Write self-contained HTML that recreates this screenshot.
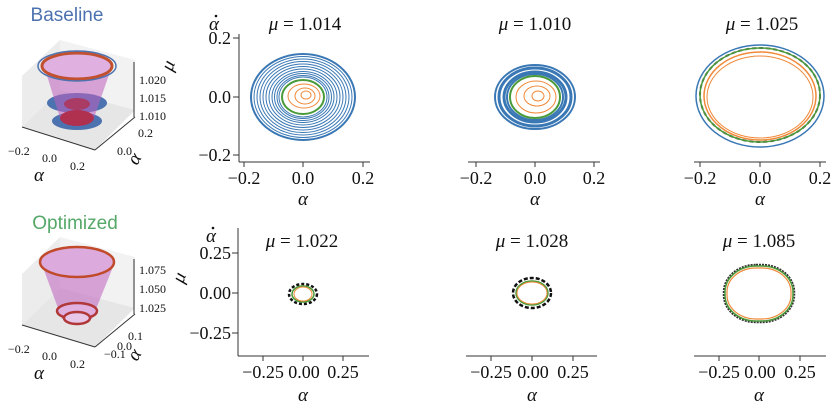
<!DOCTYPE html>
<html><head><meta charset="utf-8"><style>
body{margin:0;background:#fff;}
svg{display:block;font-family:"Liberation Serif",serif;}
.t{font-size:19px;fill:#111}
.tk{font-size:18px;fill:#111}
.s{font-size:12px;fill:#111}
</style></head><body>
<svg width="839" height="412" viewBox="0 0 839 412">
<text x="67" y="21" text-anchor="middle" font-family="Liberation Sans,sans-serif" font-size="19" fill="#4c72b0">Baseline</text>
<text x="75" y="229" text-anchor="middle" font-family="Liberation Sans,sans-serif" font-size="19" fill="#55a868">Optimized</text>

<!-- 3D top -->
<g>
<polygon points="22,76 60,40 60,90 22,127" fill="#ececec"/>
<polygon points="60,40 135,60 135,110 60,90" fill="#f2f2f2"/>
<polygon points="22,127 60,90 135,110 95,150" fill="#e6e6e6"/>
<line x1="22" y1="127" x2="95" y2="150" stroke="#333"/>
<line x1="95" y1="150" x2="135" y2="117" stroke="#333"/>
<line x1="134" y1="62" x2="134" y2="117" stroke="#333"/>
<ellipse cx="77" cy="121" rx="25" ry="9" fill="#4c72b0"/>
<ellipse cx="77" cy="103" rx="30" ry="10" fill="#4c72b0"/>
<polygon points="44,66 112,66 94,118 60,118" fill="#c060c0" opacity="0.55"/>
<ellipse cx="77" cy="118" rx="17" ry="8" fill="#b03050"/>
<ellipse cx="77" cy="104" rx="13" ry="6" fill="#b03050" opacity="0.8"/>
<ellipse cx="77" cy="66" rx="35" ry="13" fill="#e0b0e0" stroke="#c05030" stroke-width="3"/>
<ellipse cx="77" cy="66" rx="39" ry="15" fill="none" stroke="#4c72b0" stroke-width="1.5"/>
<text class="s" x="139" y="84">1.020</text>
<text class="s" x="139" y="102">1.015</text>
<text class="s" x="139" y="120">1.010</text>
<text class="t" transform="translate(172,72) rotate(-70)" font-style="italic">μ</text>
<text class="s" x="8" y="155">−0.2</text>
<text class="s" x="42" y="162">0.0</text>
<text class="s" x="70" y="170">0.2</text>
<text class="t" x="34" y="181" font-style="italic">α</text>
<text class="s" x="138" y="137">0.2</text>
<text class="s" x="117" y="155">0.0</text>
<text class="t" transform="translate(137,166) rotate(-60)" font-style="italic">α</text>
</g>

<!-- 3D bottom -->
<g>
<polygon points="22,274 60,237 60,288 22,325" fill="#ececec"/>
<polygon points="60,237 135,257 135,308 60,288" fill="#f2f2f2"/>
<polygon points="22,325 60,288 135,308 95,347" fill="#e6e6e6"/>
<line x1="22" y1="325" x2="95" y2="347" stroke="#333"/>
<line x1="95" y1="347" x2="135" y2="314" stroke="#333"/>
<line x1="134" y1="259" x2="134" y2="314" stroke="#333"/>
<polygon points="41,262 115,262 92,319 62,319" fill="#c060c0" opacity="0.55"/>
<ellipse cx="77" cy="311" rx="20" ry="8" fill="#e0b0e0" stroke="#b03838" stroke-width="2.5"/>
<ellipse cx="77" cy="318" rx="13" ry="6" fill="#e8c8e8" stroke="#b03838" stroke-width="2.5"/>
<ellipse cx="77" cy="262" rx="37" ry="15" fill="#dcaadc" stroke="#c04a2a" stroke-width="2.5"/>
<text class="s" x="139" y="274">1.075</text>
<text class="s" x="139" y="293">1.050</text>
<text class="s" x="139" y="312">1.025</text>
<text class="t" transform="translate(183,284) rotate(-70)" font-style="italic">μ</text>
<text class="s" x="8" y="353">−0.2</text>
<text class="s" x="42" y="360">0.0</text>
<text class="s" x="70" y="368">0.2</text>
<text class="t" x="34" y="379" font-style="italic">α</text>
<text class="s" x="128" y="340">0.1</text>
<text class="s" x="117" y="350">0.0</text>
<text class="s" x="104" y="358">−0.1</text>
<text class="t" transform="translate(137,362) rotate(-60)" font-style="italic">α</text>
</g>

<!-- Top row axes -->
<g stroke="#333" stroke-width="1" fill="none">
<line x1="239" y1="34" x2="239" y2="162"/>
<line x1="233" y1="38" x2="239" y2="38"/><line x1="233" y1="97" x2="239" y2="97"/><line x1="233" y1="155" x2="239" y2="155"/>
<line x1="239" y1="162" x2="370" y2="162"/>
<line x1="244" y1="162" x2="244" y2="167"/><line x1="303" y1="162" x2="303" y2="167"/><line x1="363" y1="162" x2="363" y2="167"/>
<line x1="468" y1="162" x2="600" y2="162"/>
<line x1="476" y1="162" x2="476" y2="167"/><line x1="535" y1="162" x2="535" y2="167"/><line x1="594" y1="162" x2="594" y2="167"/>
<line x1="694" y1="162" x2="826" y2="162"/>
<line x1="700" y1="162" x2="700" y2="167"/><line x1="760" y1="162" x2="760" y2="167"/><line x1="820" y1="162" x2="820" y2="167"/>
</g>
<text class="tk" x="231" y="44" text-anchor="end">0.2</text>
<text class="tk" x="231" y="103" text-anchor="end">0.0</text>
<text class="tk" x="231" y="161" text-anchor="end">−0.2</text>
<text class="tk" x="244" y="184" text-anchor="middle">−0.2</text>
<text class="tk" x="303" y="184" text-anchor="middle">0.0</text>
<text class="tk" x="363" y="184" text-anchor="middle">0.2</text>
<text class="tk" x="476" y="184" text-anchor="middle">−0.2</text>
<text class="tk" x="535" y="184" text-anchor="middle">0.0</text>
<text class="tk" x="594" y="184" text-anchor="middle">0.2</text>
<text class="tk" x="700" y="184" text-anchor="middle">−0.2</text>
<text class="tk" x="760" y="184" text-anchor="middle">0.0</text>
<text class="tk" x="820" y="184" text-anchor="middle">0.2</text>
<text class="t" x="303" y="205" text-anchor="middle" font-style="italic">α</text>
<text class="t" x="535" y="205" text-anchor="middle" font-style="italic">α</text>
<text class="t" x="760" y="205" text-anchor="middle" font-style="italic">α</text>
<text class="t" x="214" y="30" text-anchor="middle" font-style="italic">α</text><circle cx="216" cy="16" r="1.3" fill="#111"/>
<text class="t" x="305" y="30" text-anchor="middle"><tspan font-style="italic">μ</tspan> = 1.014</text>
<text class="t" x="535" y="30" text-anchor="middle"><tspan font-style="italic">μ</tspan> = 1.010</text>
<text class="t" x="762" y="30" text-anchor="middle"><tspan font-style="italic">μ</tspan> = 1.025</text>

<!-- top p1 -->
<g fill="none" stroke="#3a78b5" stroke-width="1">
<ellipse cx="303" cy="97" rx="52" ry="43" stroke-width="2"/>
<ellipse cx="303" cy="97" rx="49" ry="40.5"/>
<ellipse cx="303" cy="97" rx="46" ry="38"/>
<ellipse cx="303" cy="97" rx="43" ry="35.5"/>
<ellipse cx="303" cy="97" rx="40" ry="33"/>
<ellipse cx="303" cy="97" rx="37" ry="30.5"/>
<ellipse cx="303" cy="97" rx="34" ry="28"/>
<ellipse cx="303" cy="97" rx="31" ry="25.5"/>
<ellipse cx="303" cy="97" rx="28.5" ry="23.5"/>
<ellipse cx="303" cy="97" rx="26" ry="21.5"/>
<ellipse cx="303" cy="97" rx="24" ry="20"/>
</g>
<ellipse cx="303" cy="97" rx="21" ry="17" fill="#fff" stroke="#4a9a3a" stroke-width="2"/>
<g fill="none" stroke="#f08a3a" stroke-width="1">
<ellipse cx="304" cy="96" rx="16" ry="12"/><ellipse cx="305" cy="96" rx="10" ry="8"/><ellipse cx="306" cy="95" rx="5" ry="4"/>
</g>
<!-- top p2 -->
<g fill="none" stroke="#3a78b5">
<ellipse cx="535" cy="97" rx="40" ry="32" stroke-width="2"/>
<ellipse cx="535" cy="97" rx="36" ry="29" stroke-width="3"/>
<ellipse cx="535" cy="97" rx="31" ry="25" stroke-width="3"/>
<ellipse cx="535" cy="97" rx="28" ry="23" stroke-width="2"/>
</g>
<ellipse cx="535" cy="97" rx="25" ry="21" fill="#fff" stroke="#4a9a3a" stroke-width="2"/>
<g fill="none" stroke="#f08a3a" stroke-width="1">
<ellipse cx="536" cy="97" rx="20" ry="16"/><ellipse cx="537" cy="96" rx="13" ry="10"/><ellipse cx="538" cy="96" rx="6" ry="5"/>
</g>
<!-- top p3 -->
<ellipse cx="760" cy="96" rx="64" ry="51" fill="none" stroke="#3a78b5" stroke-width="1.5"/>
<ellipse cx="760" cy="95" rx="60" ry="47" fill="none" stroke="#555" stroke-width="2" stroke-dasharray="4 3"/>
<ellipse cx="760" cy="95" rx="60" ry="47" fill="none" stroke="#4a9a3a" stroke-width="1.5"/>
<ellipse cx="760" cy="96" rx="56" ry="44" fill="none" stroke="#f08a3a" stroke-width="1.5"/>
<ellipse cx="760" cy="97" rx="53" ry="41" fill="none" stroke="#f08a3a" stroke-width="1"/>

<!-- Bottom row axes -->
<g stroke="#333" stroke-width="1" fill="none">
<line x1="238" y1="228" x2="238" y2="356"/>
<line x1="232" y1="253" x2="238" y2="253"/><line x1="232" y1="293" x2="238" y2="293"/><line x1="232" y1="333" x2="238" y2="333"/>
<line x1="238" y1="356" x2="369" y2="356"/>
<line x1="263" y1="356" x2="263" y2="361"/><line x1="303" y1="356" x2="303" y2="361"/><line x1="343" y1="356" x2="343" y2="361"/>
<line x1="466" y1="356" x2="597" y2="356"/>
<line x1="491" y1="356" x2="491" y2="361"/><line x1="532" y1="356" x2="532" y2="361"/><line x1="573" y1="356" x2="573" y2="361"/>
<line x1="694" y1="356" x2="826" y2="356"/>
<line x1="719" y1="356" x2="719" y2="361"/><line x1="759" y1="356" x2="759" y2="361"/><line x1="800" y1="356" x2="800" y2="361"/>
</g>
<text class="tk" x="231" y="259" text-anchor="end">0.25</text>
<text class="tk" x="231" y="299" text-anchor="end">0.00</text>
<text class="tk" x="231" y="339" text-anchor="end">−0.25</text>
<text class="tk" x="263" y="378" text-anchor="middle">−0.25</text><text class="tk" x="304" y="378" text-anchor="middle">0.00</text><text class="tk" x="343" y="378" text-anchor="middle">0.25</text>
<text class="tk" x="491" y="378" text-anchor="middle">−0.25</text><text class="tk" x="533" y="378" text-anchor="middle">0.00</text><text class="tk" x="573" y="378" text-anchor="middle">0.25</text>
<text class="tk" x="719" y="378" text-anchor="middle">−0.25</text><text class="tk" x="760" y="378" text-anchor="middle">0.00</text><text class="tk" x="800" y="378" text-anchor="middle">0.25</text>
<text class="t" x="303" y="401" text-anchor="middle" font-style="italic">α</text>
<text class="t" x="532" y="401" text-anchor="middle" font-style="italic">α</text>
<text class="t" x="759" y="401" text-anchor="middle" font-style="italic">α</text>
<text class="t" x="211" y="242" text-anchor="middle" font-style="italic">α</text><circle cx="213" cy="228" r="1.3" fill="#111"/>
<text class="t" x="302" y="247" text-anchor="middle"><tspan font-style="italic">μ</tspan> = 1.022</text>
<text class="t" x="532" y="247" text-anchor="middle"><tspan font-style="italic">μ</tspan> = 1.028</text>
<text class="t" x="759" y="247" text-anchor="middle"><tspan font-style="italic">μ</tspan> = 1.085</text>

<ellipse cx="303" cy="294" rx="14" ry="10" fill="none" stroke="#111" stroke-width="2.5" stroke-dasharray="3 2"/>
<ellipse cx="303" cy="294" rx="11" ry="8" fill="none" stroke="#4a9a3a" stroke-width="1.5"/>
<ellipse cx="303" cy="294" rx="9" ry="7" fill="none" stroke="#f08a3a" stroke-width="1"/>
<ellipse cx="532" cy="293" rx="19" ry="15" fill="none" stroke="#111" stroke-width="2.5" stroke-dasharray="4 2"/>
<ellipse cx="532" cy="293" rx="16" ry="12" fill="none" stroke="#4a9a3a" stroke-width="1.5"/>
<ellipse cx="532" cy="293" rx="15" ry="11" fill="none" stroke="#f08a3a" stroke-width="1"/>
<rect x="724" y="265" width="70" height="57" rx="32" ry="27" fill="none" stroke="#333" stroke-width="2.5" stroke-dasharray="2 1"/>
<rect x="725" y="266" width="68" height="55" rx="31" ry="26" fill="none" stroke="#4a9a3a" stroke-width="1.5"/>
<rect x="727" y="268" width="64" height="51" rx="29" ry="24" fill="none" stroke="#f08a3a" stroke-width="1.2"/>
</svg>
</body></html>
